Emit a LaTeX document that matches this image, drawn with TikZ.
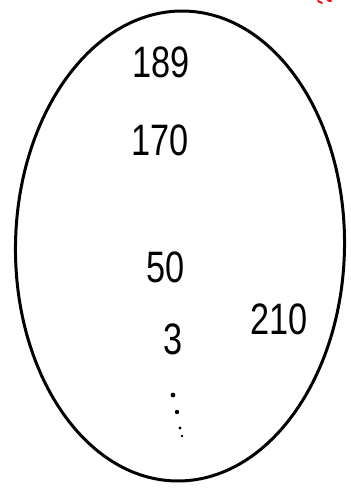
\documentclass[tikz,border=0pt]{standalone}
\usepackage{fontspec}
\setmainfont{Liberation Sans}
\usetikzlibrary{shapes.geometric}
\begin{document}
\begin{tikzpicture}[x=1pt,y=-1pt,
  num/.style={font=\fontsize{44}{44}\selectfont, inner sep=0pt, xscale=0.78, text=black},
  dotmark/.style={fill=black, draw=none}]
\useasboundingbox (0,0) rectangle (351,488);
\node[draw, ellipse, line width=3pt, minimum width=329pt, minimum height=470pt, inner sep=0pt, rotate=-1] (set) at (180,246) {};
\node[num] (n189) at (161,62) {189};
\node[num] (n170) at (160,140) {170};
\node[num] (n50) at (166,267) {50};
\node[num] (n3) at (173,339) {3};
\node[num] (n210) at (279,319) {210};
\fill[dotmark] (173,395) circle (2.4pt);
\fill[dotmark] (177,412) circle (2.2pt);
\fill[dotmark] (180,428) circle (1.6pt);
\fill[dotmark] (182,436) circle (1.3pt);
\draw[red, line width=2pt, line cap=round] (318,1) -- (322,3);
\draw[red, line width=2pt, line cap=round] (328,0.5) -- (331,1);
\end{tikzpicture}
\end{document}
